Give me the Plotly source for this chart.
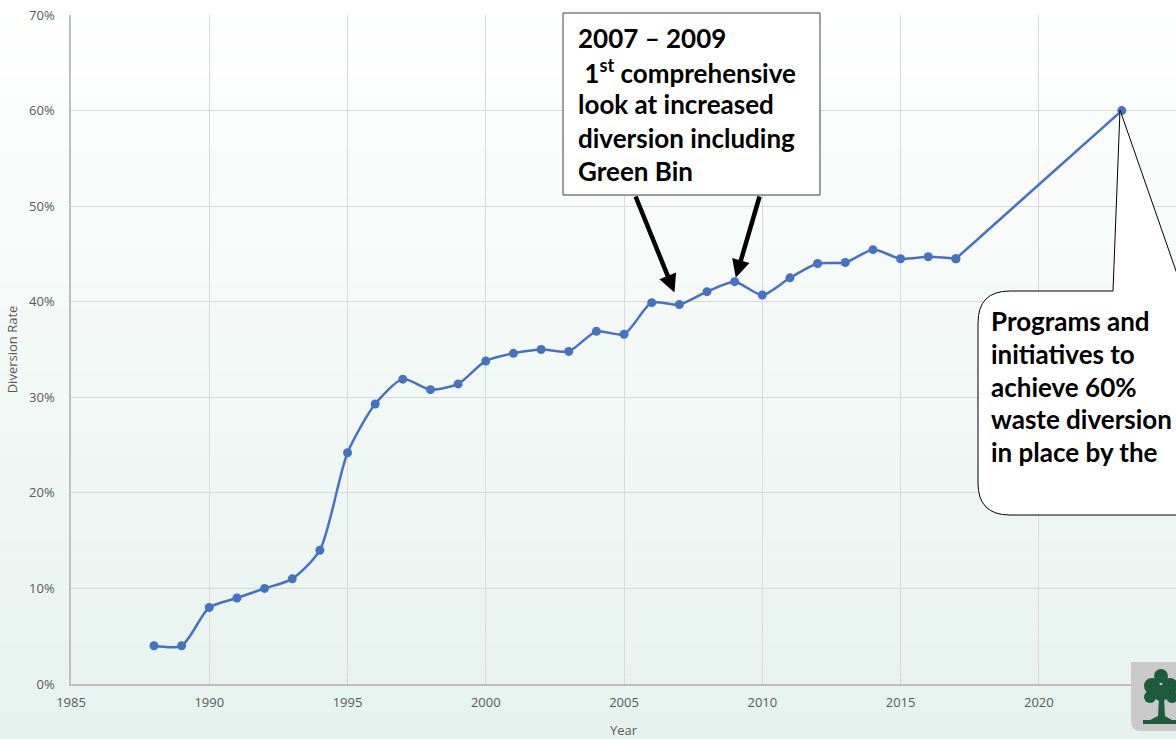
import plotly.graph_objects as go

# ---- data ----
years = [1988, 1989, 1990, 1991, 1992, 1993, 1994, 1995, 1996, 1997, 1998, 1999,
         2000, 2001, 2002, 2003, 2004, 2005, 2006, 2007, 2008, 2009, 2010, 2011,
         2012, 2013, 2014, 2015, 2016, 2017, 2023]
rates = [4.0, 4.0, 8.0, 9.0, 10.0, 11.0, 14.0, 24.2, 29.3, 31.9, 30.8, 31.4,
         33.8, 34.6, 35.0, 34.8, 36.9, 36.6, 39.9, 39.7, 41.05, 42.1, 40.7, 42.5,
         44.0, 44.1, 45.45, 44.5, 44.7, 44.5, 60.0]
y_ticks = [0, 10, 20, 30, 40, 50, 60, 70]
box1_lines = ["2007 – 2009", " 1<sup>st</sup> comprehensive", "look at increased",
              "diversion including", "Green Bin"]
box2_lines = ["Programs and", "initiatives to", "achieve 60%", "waste diversion",
              "in place by the"]

W, H = 1176, 739
ML, MR, MT, MB = 71, 0, 15, 55
PW, PH = W - ML - MR, H - MT - MB


def px_x(px):  # pixel -> paper x
    return (px - ML) / PW


def px_y(py):  # pixel -> paper y
    return (H - MB - py) / PH


BLUE = "#4472c4"
fig = go.Figure()
# annual series: smoothed line
fig.add_trace(go.Scatter(
    x=years[:-1], y=rates[:-1], mode="lines+markers",
    line=dict(color=BLUE, width=2.5, shape="spline", smoothing=0.7),
    marker=dict(color=BLUE, size=9),
    showlegend=False, hoverinfo="x+y"))
# long jump to the target year
fig.add_trace(go.Scatter(
    x=years[-2:], y=rates[-2:], mode="lines+markers",
    line=dict(color=BLUE, width=2.5),
    marker=dict(color=BLUE, size=9),
    showlegend=False, hoverinfo="x+y"))

shapes = []
# background gradient
n = 60
top_c = (255, 255, 255)
bot_c = (230, 242, 238)
y_top, y_bot = px_y(0), px_y(H)
for i in range(n):
    t = (i + 0.5) / n
    c = tuple(round(top_c[k] + (bot_c[k] - top_c[k]) * t) for k in range(3))
    y0 = y_top + (y_bot - y_top) * i / n
    y1 = y_top + (y_bot - y_top) * (i + 1) / n - 0.0005
    shapes.append(dict(type="rect", xref="paper", yref="paper",
                       x0=px_x(-2), x1=px_x(W + 2), y0=y0, y1=y1,
                       fillcolor="rgb(%d,%d,%d)" % c, line=dict(width=0), layer="below"))

# box 1
shapes.append(dict(type="rect", xref="paper", yref="paper",
                   x0=px_x(563), x1=px_x(820), y0=px_y(195), y1=px_y(13),
                   fillcolor="white", line=dict(color="#404040", width=1), layer="above"))

# callout box 2 (rounded, with pointer) in paper coords
xl, xr = px_x(978), px_x(1200)
yt, yb = px_y(291), px_y(515)
rx, ry = 32 / PW, 32 / PH
p1x, tipx, tipy, p2x = px_x(1113), px_x(1120), px_y(110), px_x(1183)
path = (f"M {xl+rx},{yt} L {p1x},{yt} L {tipx},{tipy} L {p2x},{yt} L {xr},{yt} "
        f"L {xr},{yb} L {xl+rx},{yb} Q {xl},{yb} {xl},{yb+ry} L {xl},{yt-ry} "
        f"Q {xl},{yt} {xl+rx},{yt} Z")
shapes.append(dict(type="path", xref="paper", yref="paper", path=path,
                   fillcolor="white", line=dict(color="black", width=1), layer="above"))

# logo (bottom right)
green = "#1e5a3c"
shapes.append(dict(type="path", xref="paper", yref="paper",
                   path=(f"M {px_x(1131)},{px_y(662)} L {px_x(1180)},{px_y(662)} "
                         f"L {px_x(1180)},{px_y(731)} L {px_x(1141)},{px_y(731)} "
                         f"Q {px_x(1131)},{px_y(731)} {px_x(1131)},{px_y(721)} Z"),
                   fillcolor="#c9c9c9", line=dict(width=0), layer="above"))
for (cx, cy, r) in [(1161, 676, 7), (1152, 686, 8), (1170, 686, 8), (1161, 693, 8),
                    (1150, 697, 6), (1172, 697, 6)]:
    shapes.append(dict(type="circle", xref="paper", yref="paper",
                       x0=px_x(cx - r), x1=px_x(cx + r), y0=px_y(cy + r), y1=px_y(cy - r),
                       fillcolor=green, line=dict(width=0), layer="above"))
shapes.append(dict(type="path", xref="paper", yref="paper",
                   path=(f"M {px_x(1159)},{px_y(698)} L {px_x(1164)},{px_y(698)} "
                         f"L {px_x(1165)},{px_y(716)} L {px_x(1172)},{px_y(720)} "
                         f"L {px_x(1150)},{px_y(720)} L {px_x(1158)},{px_y(716)} Z"),
                   fillcolor=green, line=dict(width=0), layer="above"))
shapes.append(dict(type="rect", xref="paper", yref="paper",
                   x0=px_x(1143), x1=px_x(1178), y0=px_y(724), y1=px_y(720),
                   fillcolor=green, line=dict(width=0), layer="above"))

annotations = []
bfont = dict(family="Lato, 'Open Sans', sans-serif", size=26, color="black")
for i, line in enumerate(box1_lines):
    annotations.append(dict(xref="paper", yref="paper", x=px_x(576), y=px_y(38 + 33.2 * i),
                            text="<b>%s</b>" % line, showarrow=False, xanchor="left",
                            yanchor="middle", align="left", font=bfont))
for i, line in enumerate(box2_lines):
    annotations.append(dict(xref="paper", yref="paper", x=px_x(989), y=px_y(321 + 32.8 * i),
                            text="<b>%s</b>" % line, showarrow=False, xanchor="left",
                            yanchor="middle", align="left", font=bfont))

# arrows from box 1 to 2007 and 2009 points (tails given in pixels)
i07, i09 = years.index(2007), years.index(2009)
arrow_specs = [(i07, 635, 195, 13), (i09, 760, 195, 4)]
x_per_px = 39.96 / PW
for idx, tx, ty, so in arrow_specs:
    tip_px = ML + (years[idx] - 1985) / x_per_px
    tip_py = H - MB - rates[idx] / 70 * PH
    annotations.append(dict(x=years[idx], y=rates[idx], xref="x", yref="y",
                            ax=tx - tip_px, ay=ty - tip_py,
                            text="", showarrow=True, arrowhead=2, arrowsize=0.8,
                            arrowwidth=4.5, arrowcolor="black", standoff=so))

tfont = dict(family="'Open Sans', sans-serif", size=13, color="#595959")
fig.update_layout(
    width=W, height=H,
    margin=dict(l=ML, r=MR, t=MT, b=MB, pad=0),
    paper_bgcolor="white", plot_bgcolor="rgba(0,0,0,0)",
    shapes=shapes, annotations=annotations,
    xaxis=dict(range=[1985, 1985 + 39.96], dtick=5, tick0=1985, showgrid=True,
               gridcolor="#d9d9d9", gridwidth=1, zeroline=False, showline=True,
               linecolor="#bfbfbf", linewidth=1.5, ticks="", tickfont=tfont,
               ticklabelstandoff=6,
               title=dict(text="Year", font=tfont, standoff=16)),
    yaxis=dict(range=[0, 70], tickvals=y_ticks, ticktext=["%d%%" % v for v in y_ticks],
               showgrid=True, gridcolor="#d9d9d9", gridwidth=1, zeroline=False,
               showline=True, linecolor="#bfbfbf", linewidth=1.5, ticks="",
               tickfont=tfont, ticklabelstandoff=12,
               title=dict(text="Diversion Rate", font=tfont, standoff=8)),
)

fig.write_html("out.html")
